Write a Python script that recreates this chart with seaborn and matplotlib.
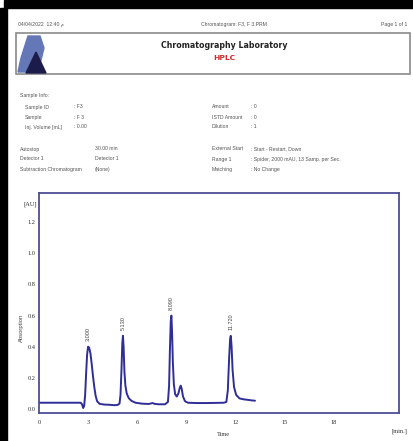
import matplotlib
matplotlib.use("Agg")
import matplotlib.pyplot as plt
from matplotlib.patches import Rectangle, Polygon
import pandas as pd
import seaborn as sns

sns.set_style("white")
plt.rcParams["font.family"] = ["Liberation Sans", "DejaVu Sans"]

# Detector trace: retention time [min] and absorbance [AU]
time_min = [0.0, 1.0, 2.0, 2.55, 2.63, 2.70, 2.76, 2.82, 2.88, 2.94, 3.00, 3.06,
             3.14, 3.22, 3.30, 3.38, 3.46, 3.55, 3.70, 4.00, 4.30, 4.60, 4.80,
             4.92, 4.98, 5.04, 5.09, 5.13, 5.17, 5.22, 5.28, 5.36, 5.48, 5.65,
             5.90, 6.30, 6.70, 6.95, 7.05, 7.30, 7.70, 7.88, 7.95, 8.00, 8.05,
             8.09, 8.13, 8.18, 8.24, 8.32, 8.42, 8.52, 8.60, 8.66, 8.72, 8.80,
             8.92, 9.10, 9.60, 10.20, 10.80, 11.30, 11.45, 11.54, 11.62, 11.68,
             11.72, 11.77, 11.83, 11.92, 12.05, 12.25, 12.50, 12.80, 13.00, 13.20]
absorbance = [0.040, 0.040, 0.040, 0.040, 0.030, 0.006, 0.020, 0.090, 0.230, 0.350,
              0.400, 0.395, 0.360, 0.290, 0.210, 0.140, 0.085, 0.050, 0.033, 0.028,
              0.027, 0.024, 0.026, 0.034, 0.090, 0.250, 0.420, 0.470, 0.400, 0.240,
              0.150, 0.100, 0.070, 0.052, 0.040, 0.034, 0.032, 0.038, 0.033, 0.030,
              0.030, 0.045, 0.150, 0.380, 0.560, 0.600, 0.500, 0.300, 0.160, 0.095,
              0.080, 0.100, 0.135, 0.150, 0.130, 0.080, 0.050, 0.040, 0.038, 0.038,
              0.039, 0.040, 0.045, 0.120, 0.330, 0.450, 0.470, 0.400, 0.250, 0.140,
              0.090, 0.068, 0.062, 0.058, 0.055, 0.053]

# Integrated peaks
peak_rt = [3.00, 5.13, 8.09, 11.72]
peak_height = [0.400, 0.470, 0.600, 0.470]

y_ticks = [0.0, 0.2, 0.4, 0.6, 0.8, 1.0, 1.2]
x_ticks = [0, 3, 6, 9, 12, 15, 18]

W, H = 414, 441
fig = plt.figure(figsize=(W / 100, H / 100), dpi=100)
fig.patch.set_facecolor("white")


def fx(px):
    return px / W


def fy(py):
    return 1 - py / H


# dark frame along the top and left edge of the page
fig.patches.append(Rectangle((0, fy(441)), fx(7), fy(8) - fy(441),
                             transform=fig.transFigure, color="black", zorder=0))
fig.patches.append(Rectangle((fx(4), fy(8)), 1, fy(0) - fy(8),
                             transform=fig.transFigure, color="black", zorder=0))

grey = "#555555"
small = 3.7

# page header
fig.text(fx(18), fy(24.5), "04/04/2022  12:40 م", fontsize=small, color=grey, va="center")
fig.text(fx(234), fy(24.5), "Chromatogram: F3, F 3.PRM", fontsize=small, color=grey,
         va="center", ha="center")
fig.text(fx(407), fy(24.5), "Page 1 of 1", fontsize=small, color=grey, va="center", ha="right")

# title box
fig.patches.append(Rectangle((fx(16), fy(74)), fx(410) - fx(16), fy(33) - fy(74),
                             transform=fig.transFigure, fill=False,
                             edgecolor="#8a8a8a", lw=1.2, zorder=1))
fig.patches.append(Polygon([(fx(28), fy(36)), (fx(40), fy(36)), (fx(44), fy(48)),
                            (fx(38), fy(72)), (fx(18), fy(72)), (fx(21), fy(58))],
                           closed=True, transform=fig.transFigure,
                           color="#6478b8", zorder=2))
fig.patches.append(Polygon([(fx(26), fy(73)), (fx(36), fy(52)), (fx(46), fy(73))],
                           closed=True, transform=fig.transFigure,
                           color="#1c1c4a", zorder=3))
fig.text(fx(224), fy(46), "Chromatography Laboratory", fontsize=5.7, weight="bold",
         color="#222222", ha="center", va="center", family="DejaVu Sans")
fig.text(fx(224), fy(58.5), "HPLC", fontsize=5.4, weight="bold", color="#d42a2a",
         ha="center", va="center", family="DejaVu Sans")

# sample information
fig.text(fx(20), fy(96), "Sample Info:", fontsize=small, color=grey, va="center")
left_rows = [("Sample ID", ": F3", 107), ("Sample", ": F 3", 117),
             ("Inj. Volume [mL]", ": 0.00", 127)]
for lab, val, yy in left_rows:
    fig.text(fx(25), fy(yy), lab, fontsize=small, color=grey, va="center")
    fig.text(fx(74), fy(yy), val, fontsize=small, color=grey, va="center")
right_rows = [("Amount", ": 0", 107), ("ISTD Amount", ": 0", 117), ("Dilution", ": 1", 127)]
for lab, val, yy in right_rows:
    fig.text(fx(212), fy(yy), lab, fontsize=small, color=grey, va="center")
    fig.text(fx(251), fy(yy), val, fontsize=small, color=grey, va="center")

method_left = [("Autostop", "30.00 min", 149), ("Detector 1", "Detector 1", 159),
               ("Subtraction Chromatogram", "(None)", 169)]
for lab, val, yy in method_left:
    fig.text(fx(20), fy(yy), lab, fontsize=small, color=grey, va="center")
    fig.text(fx(95), fy(yy), val, fontsize=small, color=grey, va="center")
method_right = [("External Start", ": Start - Restart, Down", 149),
                ("Range 1", ": Spider, 2000 mAU, 13 Samp. per Sec.", 159),
                ("Matching", ": No Change", 169)]
for lab, val, yy in method_right:
    fig.text(fx(212), fy(yy), lab, fontsize=small, color=grey, va="center")
    fig.text(fx(251), fy(yy), val, fontsize=small, color=grey, va="center")

# chromatogram
ax = fig.add_axes([fx(39), fy(413), fx(399) - fx(39), fy(193) - fy(413)])
df = pd.DataFrame({"Time": time_min, "Absorbance": absorbance})
sns.lineplot(data=df, x="Time", y="Absorbance", ax=ax, color="#2e2e96", lw=1.4,
             estimator=None, sort=False)
ax.set_xlim(0, 22.0)
ax.set_ylim(-0.026, 1.388)
ax.set_xticks(x_ticks)
ax.set_xticklabels([str(t) for t in x_ticks])
ax.set_yticks(y_ticks)
ax.set_yticklabels([f"{v:.1f}" for v in y_ticks])
ax.tick_params(length=0, labelsize=4.6, colors="#333333")
ax.tick_params(axis="x", pad=5)
ax.tick_params(axis="y", pad=2.5)
for lab in ax.get_xticklabels() + ax.get_yticklabels():
    lab.set_family("Liberation Serif")
for sp in ax.spines.values():
    sp.set_color("#4e4e96")
    sp.set_linewidth(1.3)
ax.set_xlabel("")
ax.set_ylabel("")

for rt, h in zip(peak_rt, peak_height):
    ax.annotate(f"{rt:.3f}", xy=(rt, h), xytext=(0, 4), textcoords="offset points",
                rotation=90, ha="center", va="bottom", fontsize=4.0, color="#444444")

fig.text(fx(30), fy(204), "[AU]", fontsize=4.6, color="#333333", ha="center", va="center",
         family="Liberation Serif")
fig.text(fx(21), fy(328), "Absorption", fontsize=4.2, color="#444444", ha="center",
         va="center", rotation=90)
fig.text(fx(223), fy(435), "Time", fontsize=4.6, color="#333333", ha="center", va="center",
         family="Liberation Serif")
fig.text(fx(399), fy(431), "[min.]", fontsize=4.6, color="#333333", ha="center",
         va="center", family="Liberation Serif")

fig.savefig("out.png", dpi=100, facecolor="white")
